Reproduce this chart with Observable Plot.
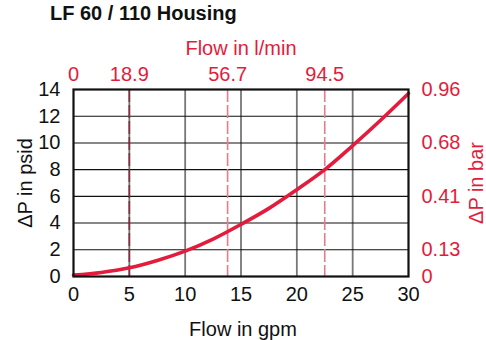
<!DOCTYPE html>
<html>
<head>
<meta charset="utf-8">
<script src="https://cdn.jsdelivr.net/npm/d3@7"></script>
<script src="https://cdn.jsdelivr.net/npm/@observablehq/plot@0.6"></script>
<style>
  html, body { margin: 0; padding: 0; background: #fff; }
  body { width: 486px; height: 340px; overflow: hidden; font-family: "Liberation Sans", Arial, Helvetica, sans-serif; }
  #title { height: 26px; line-height: 26px; font-size: 20px; font-weight: bold; padding-left: 50px; color: #111; }
  svg { display: block; }
</style>
</head>
<body>
<div id="title">LF 60 / 110 Housing</div>
<div id="chart"></div>
<script>
// Flow in gpm vs pressure drop in psid
const flowGpm = [0, 2.5, 5, 7.5, 10, 12.5, 15, 17.5, 20, 22.5, 25, 27.5, 30];
const dpPsid  = [0.1, 0.3, 0.65, 1.2, 1.9, 2.8, 3.9, 5.1, 6.5, 8.0, 9.8, 11.7, 13.7];

// Bottom axis (gpm) and left axis (psid)
const gpmTicks = [0, 5, 10, 15, 20, 25, 30];
const psidTicks = [0, 2, 4, 6, 8, 10, 12, 14];

// Top axis: l/min labels at their gpm positions
const lminTickPos = [0, 5, 13.8, 22.5];
const lminTickLabels = ["0", "18.9", "56.7", "94.5"];
// Dashed reference lines (gpm positions)
const dashedPos = [5, 13.8, 22.5];

// Right axis: bar labels at psid positions
const barTickPos = [0, 2, 6, 10, 14];
const barTickLabels = ["0", "0.13", "0.41", "0.68", "0.96"];

const red = "#e31b3c";
const curve = flowGpm.map((x, i) => ({x, y: dpPsid[i]}));
const font = "'Liberation Sans', Arial, Helvetica, sans-serif";

const plot = Plot.plot({
  width: 486,
  height: 314,
  marginLeft: 73,
  marginRight: 78,
  marginTop: 63,
  marginBottom: 64,
  style: {fontFamily: font, fontSize: "20px", color: "#111", background: "#fff", overflow: "visible"},
  x: {domain: [0, 30]},
  y: {domain: [0, 14]},
  marks: [
    // vertical gray grid
    Plot.ruleX(gpmTicks.filter(d => d > 0 && d < 30), {stroke: "#777", strokeWidth: 1.8}),
    // horizontal black grid
    Plot.ruleY(psidTicks.filter(d => d > 0 && d < 14), {stroke: "#111", strokeWidth: 1.1}),
    // dashed l/min reference lines
    Plot.ruleX(dashedPos.slice(0, 1), {stroke: "#8a2a40", strokeWidth: 1.6, strokeDasharray: "13,3"}),
    Plot.ruleX(dashedPos.slice(1), {stroke: "#ea7a8e", strokeWidth: 1.6, strokeDasharray: "13,3"}),
    // curve
    Plot.line(curve, {x: "x", y: "y", curve: "catmull-rom", stroke: red, strokeWidth: 3.6}),
    // frame
    Plot.frame({stroke: "#111", strokeWidth: 2.2}),
    // axes
    Plot.axisX({anchor: "bottom", ticks: gpmTicks, tickSize: 0, tickPadding: 10, label: null, fontSize: 20}),
    Plot.axisX({anchor: "top", ticks: lminTickPos, tickFormat: d => lminTickLabels[lminTickPos.indexOf(d)], tickSize: 0, tickPadding: 9, label: null, color: red, fill: red, fontSize: 20}),
    Plot.axisY({anchor: "left", ticks: psidTicks, tickSize: 0, tickPadding: 13, label: null, fontSize: 20}),
    Plot.axisY({anchor: "right", ticks: barTickPos, tickFormat: d => barTickLabels[barTickPos.indexOf(d)], tickSize: 0, tickPadding: 13, label: null, color: red, fill: red, fontSize: 20}),
    // axis titles
    Plot.text(["Flow in gpm"], {frameAnchor: "bottom", dy: 59, lineAnchor: "bottom", textAnchor: "middle", fontSize: 20, fill: "#111", dx: 2}),
    Plot.text(["Flow in l/min"], {frameAnchor: "top", dy: -35, lineAnchor: "bottom", textAnchor: "middle", fontSize: 20, fill: red}),
    Plot.text(["ΔP in psid"], {frameAnchor: "left", dx: -42, rotate: -90, lineAnchor: "bottom", textAnchor: "middle", fontSize: 20, fill: "#111"}),
    Plot.text(["ΔP in bar"], {frameAnchor: "right", dx: 74, rotate: -90, lineAnchor: "bottom", textAnchor: "middle", fontSize: 20, fill: red})
  ]
});
document.getElementById("chart").appendChild(plot);
</script>
</body>
</html>
